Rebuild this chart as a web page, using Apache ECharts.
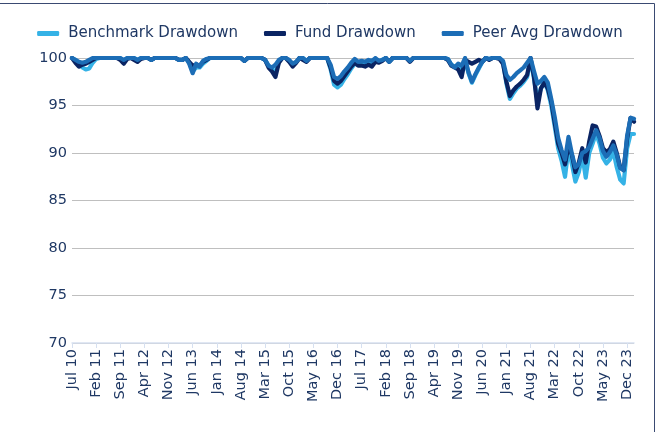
<!DOCTYPE html>
<html><head><meta charset="utf-8">
<script src="https://cdn.jsdelivr.net/npm/echarts@6/dist/echarts.min.js"></script>
<style>html,body{margin:0;padding:0;background:#fff}#c{width:660px;height:432px}</style>
</head><body><div id="c"></div>
<script>
// Monthly categories Jul 2010 .. Feb 2024
const monthNames = ['Jan','Feb','Mar','Apr','May','Jun','Jul','Aug','Sep','Oct','Nov','Dec'];
const categories = [];
for (let k = 0; k < 164; k++) {
  const m = (6 + k) % 12, y = 10 + Math.floor((6 + k) / 12);
  categories.push(monthNames[m] + ' ' + y);
}
const yTicks = [70, 75, 80, 85, 90, 95, 100];

const benchmark = [
 100,99.8,99.5,99.0,98.8,98.9,99.5,99.9,100,100,
 100,100,100,100,100,99.7,100,100,100,99.8,
 100,100,100,99.8,100,100,100,100,100,100,
 100,99.8,99.8,100,99.5,98.6,99.0,99.0,99.4,99.7,
 100,100,100,100,100,100,100,100,100,100,
 99.7,100,100,100,100,100,99.8,99.2,98.8,98.5,
 99.6,100,100,99.7,99.3,99.6,100,100,99.7,100,
 100,100,100,100,100,98.8,97.2,96.9,97.2,97.8,
 98.3,98.9,99.4,99.5,99.4,99.5,99.6,99.4,99.8,99.6,
 99.8,100,99.6,100,100,100,100,100,99.7,100,
 100,100,100,100,100,100,100,100,100,99.9,
 99.3,99.1,99.2,98.8,99.8,98.4,97.4,98.2,98.9,99.6,
 100,99.9,100,100,100,99.6,97.3,95.7,96.3,96.8,
 97.1,97.5,98.0,99.9,97.8,95.5,96.8,97.5,96.6,95.0,
 92.8,90.5,89.2,87.5,90.5,88.8,87.0,88.0,89.8,87.4,
 90.0,91.0,92.1,91.0,89.5,88.9,89.3,90.2,88.5,87.2,
 86.8,90.5,92.0,92.0
];
const fund = [
 100,99.5,99.1,99.3,99.4,99.6,99.8,100,100,100,
 100,100,100,100,99.8,99.4,99.9,100,99.8,99.6,
 99.9,100,100,99.8,100,100,100,100,100,100,
 100,99.8,99.8,100,99.6,99.2,99.3,99.2,99.6,99.8,
 100,100,100,100,100,100,100,100,100,100,
 99.7,100,100,100,100,100,99.8,99.0,98.6,98.0,
 99.5,100,100,99.6,99.1,99.5,100,99.8,99.6,100,
 100,100,100,100,100,99.0,97.6,97.3,97.6,98.1,
 98.6,99.1,99.5,99.2,99.2,99.1,99.3,99.1,99.6,99.5,
 99.7,100,99.6,100,100,100,100,100,99.6,100,
 100,100,100,100,100,100,100,100,100,99.8,
 99.2,99.0,98.8,98.0,99.8,99.6,99.4,99.6,99.8,99.6,
 100,99.8,100,100,99.9,99.4,97.5,96.0,96.6,97.0,
 97.3,97.7,98.2,100,98.0,94.7,96.8,97.4,96.8,95.4,
 93.2,91.0,90.0,88.8,90.8,89.8,88.0,89.0,90.5,89.0,
 91.2,92.9,92.8,91.8,90.5,90.1,90.4,91.2,90.0,88.5,
 88.2,91.5,93.7,93.3
];
const peer = [
 100,99.8,99.6,99.5,99.6,99.8,100,100,100,100,
 100,100,100,100,100,99.8,100,100,100,99.8,
 100,100,100,99.8,100,100,100,100,100,100,
 100,99.8,99.8,100,99.4,98.4,99.4,99.1,99.7,99.9,
 100,100,100,100,100,100,100,100,100,100,
 99.7,100,100,100,100,100,99.8,99.2,99.0,99.3,
 99.8,100,100,99.8,99.4,99.6,100,100,99.7,100,
 100,100,100,100,100,99.3,98.0,97.8,98.1,98.6,
 99.0,99.5,99.9,99.6,99.7,99.6,99.8,99.7,100,99.7,
 99.8,100,99.6,100,100,100,100,100,99.7,100,
 100,100,100,100,100,100,100,100,100,99.9,
 99.3,99.0,99.4,99.2,100,98.5,97.5,98.3,99.0,99.6,
 100,99.9,100,100,100,99.7,98.2,97.7,98.0,98.4,
 98.7,99.0,99.5,100,98.6,97.3,97.6,98.0,97.4,95.7,
 93.8,91.6,90.3,89.3,91.7,89.9,88.5,88.8,90.0,90.2,
 90.6,91.5,92.4,91.6,90.2,89.6,90.1,90.8,89.8,88.4,
 88.2,91.8,93.7,93.6
];

const textColor = '#1F3864';
const font = 'DejaVu Sans';
const chart = echarts.init(document.getElementById('c'), null, {renderer: 'canvas'});
function mk(name, data, color) {
  return {name, type: 'line', data, showSymbol: false, symbol: 'none',
    lineStyle: {color, width: 4.2, join: 'round', cap: 'round'}, itemStyle: {color},
    animation: false};
}
chart.setOption({
  animation: false,
  textStyle: {fontFamily: font},
  grid: {left: 72, right: 26, top: 58, bottom: 89},
  legend: {
    top: 21, left: 'center', itemGap: 26, itemWidth: 22, itemHeight: 5, icon: 'roundRect',
    textStyle: {color: textColor, fontSize: 15, fontFamily: font, padding: [0, 0, 0, 4]},
    data: ['Benchmark Drawdown', 'Fund Drawdown', 'Peer Avg Drawdown']
  },
  xAxis: {
    type: 'category', data: categories, boundaryGap: false,
    axisLine: {lineStyle: {color: '#D6E0F0', width: 1.5}},
    axisTick: {show: true, interval: 6, length: 5, lineStyle: {color: '#D6E0F0'}},
    axisLabel: {interval: 6, rotate: 90, color: textColor, fontSize: 14.5, fontFamily: font, margin: 6}
  },
  yAxis: {
    type: 'value', min: 70, max: 100, interval: 5,
    axisLine: {show: false}, axisTick: {show: false},
    splitLine: {lineStyle: {color: '#BFBFBF', width: 1}},
    axisLabel: {color: textColor, fontSize: 14.5, fontFamily: font, margin: 5,
      formatter: v => yTicks.includes(v) ? String(v) : ''}
  },
  graphic: [
    {type: 'line', shape: {x1: 0, y1: 3.5, x2: 654.5, y2: 3.5}, style: {stroke: '#3A4A72', lineWidth: 1}},
    {type: 'line', shape: {x1: 654.5, y1: 3.5, x2: 654.5, y2: 432}, style: {stroke: '#3A4A72', lineWidth: 1}}
  ],
  series: [
    mk('Benchmark Drawdown', benchmark, '#35B2E6'),
    mk('Fund Drawdown', fund, '#0A2463'),
    mk('Peer Avg Drawdown', peer, '#1C6DB6')
  ]
});
</script></body></html>
